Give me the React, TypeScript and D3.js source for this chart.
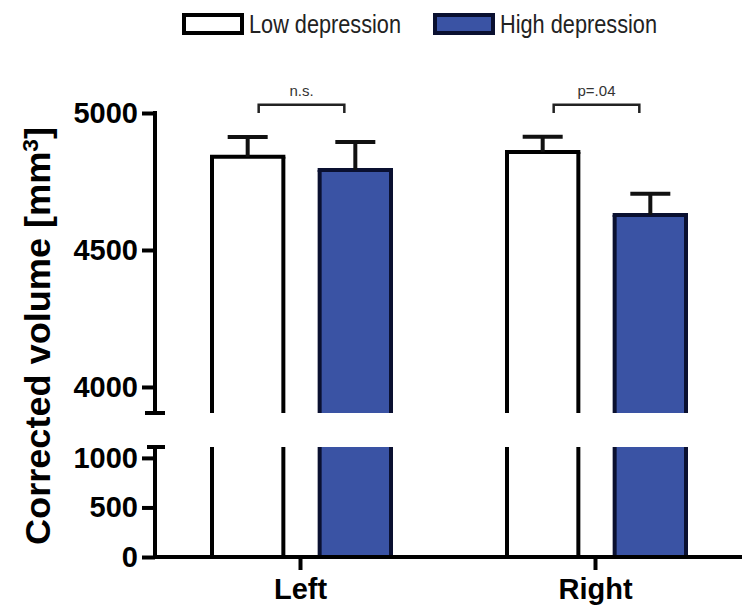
import React, { useEffect, useRef } from 'react';
import * as d3 from 'd3';

const WIDTH = 742;
const HEIGHT = 613;
const FONT = '"Liberation Sans", Arial, sans-serif';

const SIDES = ['Left', 'Right'];
const GROUPS = ['Low depression', 'High depression'];
const LOW_MEAN = [4840, 4858];
const LOW_SEM = [72, 55];
const HIGH_MEAN = [4792, 4628];
const HIGH_SEM = [102, 77];
const SIG_LABELS = ['n.s.', 'p=.04'];
const TOP_TICKS = [4000, 4500, 5000];
const BOTTOM_TICKS = [0, 500, 1000];

const FILLS = ['#ffffff', '#3a53a4'];
const STROKES = ['#000000', '#0a1030'];

const App = () => {
  const svgRef = useRef<SVGSVGElement>(null);

  useEffect(() => {
    const svg = d3.select(svgRef.current);
    svg.selectAll('*').remove();

    const x0 = d3.scaleBand().domain(SIDES).range([153, 743]);
    const x1 = d3.scaleBand().domain(GROUPS).range([57, 240]).paddingInner(0.3);
    const yTop = d3.scaleLinear().domain([3905, 5000]).range([413, 113]);
    const yBot = d3.scaleLinear().domain([0, 1110]).range([557, 447]);
    const bw = x1.bandwidth();
    const axisX = 155;

    const rows = SIDES.flatMap((side, i) =>
      GROUPS.map((g, j) => ({
        side,
        g,
        j,
        mean: j === 0 ? LOW_MEAN[i] : HIGH_MEAN[i],
        sem: j === 0 ? LOW_SEM[i] : HIGH_SEM[i],
      }))
    );

    // bars, split into the two axis segments
    const bars = svg.append('g');
    rows.forEach((d) => {
      const x = (x0(d.side) as number) + (x1(d.g) as number);
      const yt = yTop(d.mean);
      const b = bars.append('g').attr('stroke', STROKES[d.j]).attr('stroke-width', 4);
      b.append('rect')
        .attr('x', x + 2).attr('y', yt).attr('width', bw - 4).attr('height', yTop(3905) - yt)
        .attr('fill', FILLS[d.j]).attr('stroke', 'none');
      b.append('rect')
        .attr('x', x + 2).attr('y', yBot(1110)).attr('width', bw - 4).attr('height', yBot(0) - yBot(1110))
        .attr('fill', FILLS[d.j]).attr('stroke', 'none');
      [x + 2, x + bw - 2].forEach((lx) => {
        b.append('line').attr('x1', lx).attr('x2', lx).attr('y1', yt).attr('y2', yTop(3905));
        b.append('line').attr('x1', lx).attr('x2', lx).attr('y1', yBot(1110)).attr('y2', yBot(0));
      });
      b.append('line').attr('x1', x).attr('x2', x + bw).attr('y1', yt).attr('y2', yt);
      // error bar (upper only)
      const cx = x + bw / 2;
      const ye = yTop(d.mean + d.sem);
      b.append('line').attr('x1', cx).attr('x2', cx).attr('y1', yt).attr('y2', ye).attr('stroke', '#111');
      b.append('line').attr('x1', cx - 20).attr('x2', cx + 20).attr('y1', ye).attr('y2', ye).attr('stroke', '#111');
    });

    // y axis segments
    const axisG = svg.append('g').attr('stroke', '#000').attr('stroke-width', 4);
    axisG.append('line').attr('x1', axisX).attr('x2', axisX).attr('y1', yTop(5000) - 2).attr('y2', yTop(3905));
    axisG.append('line').attr('x1', axisX - 10).attr('x2', axisX + 10).attr('y1', yTop(3905)).attr('y2', yTop(3905));
    axisG.append('line').attr('x1', axisX).attr('x2', axisX).attr('y1', yBot(1110)).attr('y2', yBot(0));
    axisG.append('line').attr('x1', axisX - 8).attr('x2', axisX + 10).attr('y1', yBot(1110)).attr('y2', yBot(1110));
    axisG.append('line').attr('x1', axisX - 2).attr('x2', WIDTH).attr('y1', yBot(0)).attr('y2', yBot(0));

    const styleAxis = (g: any) => {
      g.select('.domain').remove();
      g.selectAll('line').attr('stroke', '#000').attr('stroke-width', 4);
      g.selectAll('text')
        .attr('fill', '#000')
        .attr('font-family', FONT)
        .attr('font-size', 29)
        .attr('font-weight', 'bold');
    };

    svg.append('g')
      .attr('transform', `translate(${axisX},0)`)
      .call(d3.axisLeft(yTop).tickValues(TOP_TICKS).tickSize(13).tickPadding(4).tickFormat(d3.format('d')))
      .call(styleAxis);
    svg.append('g')
      .attr('transform', `translate(${axisX},0)`)
      .call(d3.axisLeft(yBot).tickValues(BOTTOM_TICKS).tickSize(13).tickPadding(4).tickFormat(d3.format('d')))
      .call(styleAxis);
    svg.append('g')
      .attr('transform', `translate(0,${yBot(0)})`)
      .call(d3.axisBottom(x0).tickSize(13).tickPadding(8))
      .call(styleAxis);

    // significance brackets
    SIDES.forEach((side, i) => {
      const xa = (x0(side) as number) + (x1(GROUPS[0]) as number) + bw / 2 + 11;
      const xb = (x0(side) as number) + (x1(GROUPS[1]) as number) + bw / 2 - 11;
      const yb = yTop(5030);
      const ye = yTop(5000);
      svg.append('path')
        .attr('d', `M${xa},${ye}V${yb}H${xb}V${ye}`)
        .attr('fill', 'none').attr('stroke', '#222').attr('stroke-width', 2.5);
      svg.append('text')
        .attr('x', (xa + xb) / 2).attr('y', yb - 9)
        .attr('text-anchor', 'middle')
        .attr('font-family', FONT).attr('font-size', 15).attr('fill', '#333')
        .text(SIG_LABELS[i]);
    });

    // y title
    const title = svg.append('text')
      .attr('transform', 'translate(50,336) rotate(-90)')
      .attr('text-anchor', 'middle')
      .attr('font-family', FONT).attr('font-size', 35).attr('font-weight', 'bold').attr('fill', '#000')
      .attr('textLength', 418).attr('lengthAdjust', 'spacingAndGlyphs');
    title.append('tspan').text('Corrected volume [mm');
    title.append('tspan').attr('font-size', 22).attr('baseline-shift', 'super').text('3');
    title.append('tspan').text(']');

    // legend
    const legend = svg.append('g');
    const legendX = [184, 435];
    const textLen = [152, 157];
    GROUPS.forEach((g, j) => {
      legend.append('rect')
        .attr('x', legendX[j]).attr('y', 15).attr('width', 58).attr('height', 18)
        .attr('fill', FILLS[j]).attr('stroke', STROKES[j]).attr('stroke-width', 4);
      legend.append('text')
        .attr('x', legendX[j] + 65).attr('y', 33)
        .attr('font-family', FONT).attr('font-size', 25).attr('fill', '#222')
        .attr('textLength', textLen[j]).attr('lengthAdjust', 'spacingAndGlyphs')
        .text(g);
    });
  }, []);

  return (
    <div style={{ position: 'absolute', left: 0, top: 0 }}>
      <svg ref={svgRef} width={WIDTH} height={HEIGHT} style={{ display: 'block', background: '#fff' }}></svg>
    </div>
  );
};

export default App;
